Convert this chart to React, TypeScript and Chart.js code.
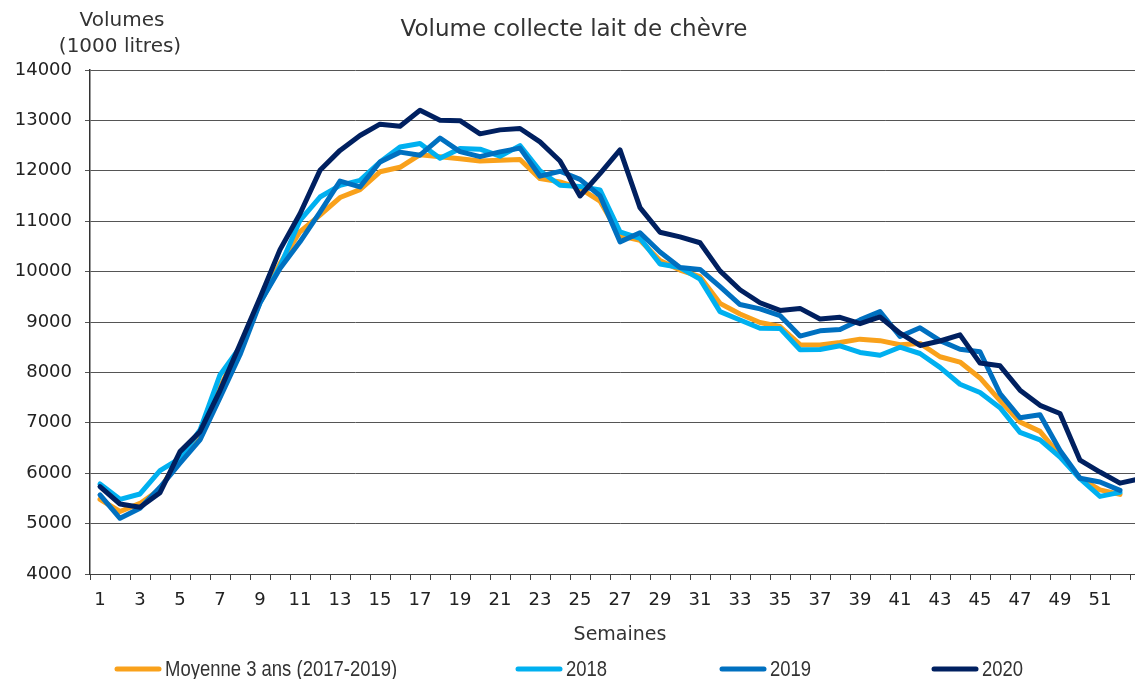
import React, { useEffect, useRef } from 'react';
import { Chart, registerables } from 'chart.js';

Chart.register(...registerables);

const TITLE = 'Volume collecte lait de chèvre';
const Y_TITLE = ['Volumes', '(1000 litres)'];
const X_TITLE = 'Semaines';

const WEEKS = ['1','2','3','4','5','6','7','8','9','10','11','12','13','14','15','16','17','18','19','20','21','22','23','24','25','26','27','28','29','30','31','32','33','34','35','36','37','38','39','40','41','42','43','44','45','46','47','48','49','50','51','52','53'];
const X_TICK_LABELS = ['1','3','5','7','9','11','13','15','17','19','21','23','25','27','29','31','33','35','37','39','41','43','45','47','49','51'];
const Y_TICKS = [4000, 5000, 6000, 7000, 8000, 9000, 10000, 11000, 12000, 13000, 14000];

const MOYENNE = [5480, 5240, 5400, 5680, 6330, 6760, 7700, 8520, 9400, 10160, 10790, 11120, 11470, 11625, 11980, 12070, 12320, 12280, 12240, 12195, 12210, 12225, 11845, 11780, 11650, 11400, 10710, 10620, 10220, 10030, 9900, 9370, 9160, 8990, 8910, 8550, 8545, 8595, 8660, 8630, 8550, 8575, 8310, 8205, 7890, 7440, 7015, 6830, 6350, 5900, 5670, 5580, null];
const Y2018 = [5786, 5482, 5588, 6050, 6296, 6857, 7950, 8500, 9380, 10100, 11017, 11480, 11711, 11810, 12174, 12471, 12540, 12250, 12440, 12430, 12290, 12500, 12000, 11715, 11690, 11620, 10790, 10660, 10150, 10080, 9850, 9205, 9040, 8875, 8873, 8450, 8455, 8528, 8395, 8340, 8500, 8375, 8100, 7765, 7600, 7300, 6810, 6660, 6320, 5890, 5540, 5620, null];
const Y2019 = [5568, 5106, 5304, 5720, 6197, 6659, 7500, 8350, 9380, 10060, 10590, 11180, 11797, 11680, 12175, 12370, 12310, 12650, 12380, 12280, 12375, 12450, 11893, 11990, 11830, 11505, 10590, 10770, 10390, 10083, 10043, 9700, 9346, 9260, 9128, 8721, 8825, 8850, 9042, 9207, 8712, 8885, 8630, 8460, 8410, 7580, 7100, 7160, 6450, 5900, 5825, 5660, null];
const Y2020 = [5733, 5389, 5323, 5614, 6428, 6824, 7640, 8560, 9480, 10436, 11149, 12009, 12405, 12700, 12925, 12885, 13200, 13004, 12994, 12733, 12812, 12840, 12575, 12195, 11500, 11945, 12415, 11270, 10780, 10690, 10572, 10015, 9640, 9382, 9230, 9270, 9060, 9092, 8966, 9100, 8778, 8535, 8623, 8745, 8185, 8131, 7648, 7347, 7185, 6259, 6023, 5802, 5890];

const SERIES_LABELS = ['Moyenne 3 ans (2017-2019)', '2018', '2019', '2020'];
const SERIES_COLORS = ['#F9A11B', '#00B0F0', '#0070C0', '#002060'];
const SERIES_DATA = [MOYENNE, Y2018, Y2019, Y2020];
const LEGEND_X = [115, 516, 720, 932];

const textPlugin = {
  id: 'customTexts',
  afterDraw(chart: any) {
    const ctx = chart.ctx as CanvasRenderingContext2D;
    ctx.save();
    ctx.fillStyle = '#333333';
    ctx.textAlign = 'center';
    ctx.textBaseline = 'middle';
    ctx.font = '23px "DejaVu Sans"';
    ctx.fillText(TITLE, 574, 30);
    ctx.font = '20px "DejaVu Sans"';
    ctx.fillText(Y_TITLE[0], 122, 21);
    ctx.fillText(Y_TITLE[1], 120, 47);
    const sx = 0.84;
    SERIES_LABELS.forEach((label, i) => {
      const x0 = LEGEND_X[i];
      const y = 669;
      ctx.strokeStyle = SERIES_COLORS[i];
      ctx.lineWidth = 5;
      ctx.lineCap = 'round';
      ctx.beginPath();
      ctx.moveTo(x0 + 2, y);
      ctx.lineTo(x0 + 44, y);
      ctx.stroke();
      ctx.save();
      ctx.translate(x0 + 50, y + 1);
      ctx.scale(sx, 1);
      ctx.font = '22px "Liberation Sans"';
      ctx.textAlign = 'left';
      ctx.fillText(label, 0, 0);
      ctx.restore();
    });
    ctx.restore();
  },
};

export default function App() {
  const ref = useRef<HTMLCanvasElement | null>(null);

  useEffect(() => {
    const canvas = ref.current;
    if (!canvas) return;
    const chart = new Chart(canvas, {
      type: 'line',
      data: {
        labels: WEEKS,
        datasets: SERIES_LABELS.map((label, i) => ({
          label,
          data: SERIES_DATA[i],
          borderColor: SERIES_COLORS[i],
          backgroundColor: SERIES_COLORS[i],
          borderWidth: 5,
          pointRadius: 0,
          tension: 0,
          fill: false,
          spanGaps: false,
          borderJoinStyle: 'round' as const,
          borderCapStyle: 'round' as const,
          order: 4 - i,
        })),
      },
      options: {
        responsive: false,
        animation: false,
        devicePixelRatio: 1,
        layout: { padding: { top: 70, bottom: 33, left: 0, right: 0 } },
        plugins: {
          legend: { display: false },
          title: { display: false },
          tooltip: { enabled: false },
        },
        scales: {
          x: {
            type: 'category',
            offset: true,
            afterFit: (s: any) => { s.height = 72; },
            grid: {
              display: true,
              offset: true,
              drawOnChartArea: false,
              drawTicks: true,
              tickLength: 6,
              color: '#404040',
            },
            border: { display: true, color: '#404040', width: 1 },
            ticks: {
              autoSkip: false,
              maxRotation: 0,
              minRotation: 0,
              padding: 10,
              color: '#222222',
              font: { family: '"DejaVu Sans"', size: 18 },
              callback: (_v: any, idx: number) => (X_TICK_LABELS.includes(WEEKS[idx]) ? WEEKS[idx] : ''),
            },
            title: {
              display: true,
              text: X_TITLE,
              color: '#333333',
              font: { family: '"DejaVu Sans"', size: 19 },
              padding: { top: 0, bottom: 0 },
            },
          },
          y: {
            min: 4000,
            max: 14000,
            afterFit: (s: any) => { s.width = 90; },
            afterBuildTicks: (s: any) => { s.ticks = Y_TICKS.map((v) => ({ value: v })); },
            grid: {
              color: '#555555',
              lineWidth: 1,
              drawTicks: true,
              tickLength: 5,
            },
            border: { display: true, color: '#333333', width: 1.5 },
            ticks: {
              padding: 13,
              color: '#222222',
              font: { family: '"DejaVu Sans"', size: 18 },
              callback: (v: any) => String(v),
            },
          },
        },
      },
      plugins: [textPlugin],
    });
    return () => chart.destroy();
  }, []);

  return (
    <div style={{ position: 'fixed', left: 0, top: 0, width: 1135, height: 679, overflow: 'hidden', background: '#fff' }}>
      <canvas ref={ref} width={1150} height={679} style={{ display: 'block', width: 1150, height: 679 }} />
    </div>
  );
}
